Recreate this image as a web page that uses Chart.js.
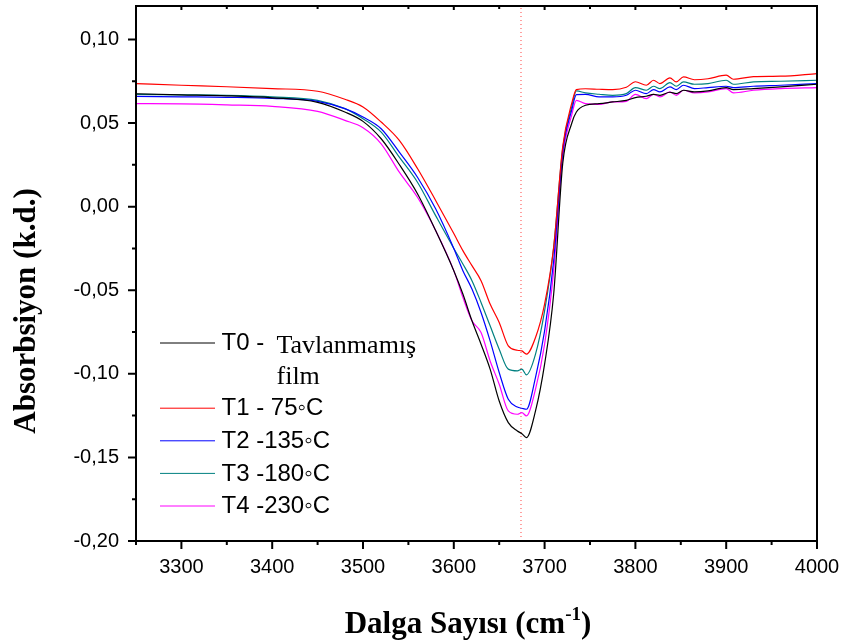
<!DOCTYPE html>
<html>
<head>
<meta charset="utf-8">
<script src="https://cdn.jsdelivr.net/npm/chart.js@4"></script>
<style>
  body { margin: 0; background: #fff; }
</style>
</head>
<body>
<canvas id="absChart" width="843" height="642"></canvas>
<script>
// wavenumber (cm-1) and absorbance
var wavenumbers = [3250, 3300, 3350, 3400, 3450, 3480, 3500, 3520, 3540, 3560, 3580,
    3600, 3610, 3620, 3630, 3640, 3650, 3660, 3670, 3675, 3680,
    3690, 3700, 3710, 3720, 3730, 3735, 3745,
    3760, 3775, 3790, 3800, 3812, 3820, 3827, 3838, 3845, 3853,
    3865, 3880, 3900, 3908, 3930, 3960, 4000];

var absT0 = [0.0675, 0.0669, 0.0663, 0.0651, 0.0624, 0.0566, 0.0510, 0.0406, 0.0252, 0.0077, -0.0143,
    -0.0383, -0.0523, -0.0683, -0.0823, -0.0972, -0.1163, -0.1292, -0.1342, -0.1358, -0.1382,
    -0.1222, -0.0942, -0.0523, 0.0260, 0.0500, 0.0566, 0.0606,
    0.0616, 0.0626, 0.0636, 0.0652, 0.0660, 0.0672, 0.0666, 0.0684, 0.0676, 0.0696,
    0.0686, 0.0692, 0.0712, 0.0700, 0.0706, 0.0716, 0.0732];

var absT1 = [0.0736, 0.0726, 0.0717, 0.0706, 0.0690, 0.0642, 0.0596, 0.0506, 0.0396, 0.0228, 0.0037,
    -0.0161, -0.0263, -0.0353, -0.0443, -0.0583, -0.0693, -0.0833, -0.0859, -0.0863, -0.0882,
    -0.0783, -0.0583, -0.0243, 0.0360, 0.0620, 0.0700, 0.0705,
    0.0702, 0.0700, 0.0714, 0.0747, 0.0726, 0.0756, 0.0736, 0.0770, 0.0746, 0.0776,
    0.0759, 0.0765, 0.0786, 0.0762, 0.0777, 0.0780, 0.0796];

var absT2 = [0.0660, 0.0657, 0.0654, 0.0648, 0.0630, 0.0586, 0.0536, 0.0466, 0.0326, 0.0176, -0.0013,
    -0.0250, -0.0383, -0.0493, -0.0633, -0.0803, -0.0992, -0.1152, -0.1199, -0.1206, -0.1212,
    -0.1021, -0.0743, -0.0323, 0.0330, 0.0580, 0.0670, 0.0672,
    0.0656, 0.0656, 0.0666, 0.0696, 0.0676, 0.0700, 0.0686, 0.0716, 0.0700, 0.0726,
    0.0706, 0.0712, 0.0720, 0.0712, 0.0720, 0.0726, 0.0736];

var absT3 = [0.0672, 0.0669, 0.0666, 0.0657, 0.0636, 0.0586, 0.0526, 0.0446, 0.0296, 0.0146, -0.0054,
    -0.0250, -0.0343, -0.0443, -0.0573, -0.0713, -0.0853, -0.0972, -0.0982, -0.0972, -0.1006,
    -0.0882, -0.0623, -0.0243, 0.0350, 0.0600, 0.0692, 0.0680,
    0.0672, 0.0666, 0.0676, 0.0712, 0.0696, 0.0720, 0.0706, 0.0742, 0.0720, 0.0746,
    0.0732, 0.0736, 0.0756, 0.0732, 0.0746, 0.0750, 0.0756];

var absT4 = [0.0616, 0.0615, 0.0609, 0.0600, 0.0570, 0.0516, 0.0472, 0.0376, 0.0206, 0.0056, -0.0143,
    -0.0383, -0.0543, -0.0683, -0.0753, -0.0923, -0.1062, -0.1222, -0.1242, -0.1232, -0.1252,
    -0.1092, -0.0823, -0.0383, 0.0300, 0.0550, 0.0636, 0.0616,
    0.0612, 0.0626, 0.0630, 0.0672, 0.0646, 0.0672, 0.0656, 0.0686, 0.0666, 0.0696,
    0.0680, 0.0686, 0.0706, 0.0680, 0.0696, 0.0706, 0.0712];

var seriesLabels = ['T0 - ', 'T1 - 75\u25E6C', 'T2 -135\u25E6C', 'T3 -180\u25E6C', 'T4 -230\u25E6C'];
var t0Note = ['Tavlanmamış', 'film'];
var markerWavenumber = 3674;
var xRange = [3250, 4000];
var yRange = [-0.20, 0.12];

function toPoints(ys) {
    return wavenumbers.map(function (x, i) { return { x: x, y: ys[i] }; });
}

// no extra room for half tick labels at the ends, the frame is placed by hand
function noEdgePadding(scale) {
    scale.paddingTop = 0;
    scale.paddingBottom = 0;
    scale.paddingLeft = 0;
    scale.paddingRight = 0;
}

// frame, tick marks, axis titles and the legend box
var frameAndLegend = {
    id: 'frameAndLegend',
    afterDraw: function (chart) {
        var ctx = chart.ctx, a = chart.chartArea;
        var xs = chart.scales.x, ys = chart.scales.y;
        ctx.save();
        ctx.strokeStyle = '#000';
        ctx.fillStyle = '#000';

        ctx.lineWidth = 2;
        ctx.beginPath();
        for (var v = xRange[0]; v <= xRange[1]; v += 50) {
            var px = xs.getPixelForValue(v);
            var major = v % 100 === 0;
            ctx.moveTo(px, a.bottom);
            ctx.lineTo(px, a.bottom + (major ? 8 : 4));
            ctx.moveTo(px, a.top);
            ctx.lineTo(px, a.top + (major ? 4 : 3));
        }
        for (var k = 0; k <= 12; k++) {
            var val = yRange[0] + k * 0.025;
            var py = ys.getPixelForValue(val);
            ctx.moveTo(a.left, py);
            ctx.lineTo(a.left - (k % 2 === 0 ? 8 : 4), py);
        }
        ctx.stroke();
        ctx.strokeRect(a.left, a.top, a.right - a.left, a.bottom - a.top);

        // y title
        ctx.save();
        ctx.translate(27, 311);
        ctx.rotate(-Math.PI / 2);
        ctx.font = 'bold 31px "Liberation Serif"';
        ctx.textAlign = 'center';
        ctx.textBaseline = 'middle';
        ctx.fillText('Absorbsiyon (k.d.)', 0, 0);
        ctx.restore();

        // x title with superscript
        var main = 'Dalga Sayısı (cm', sup = '-1', tail = ')';
        ctx.textBaseline = 'alphabetic';
        ctx.textAlign = 'left';
        ctx.font = 'bold 31px "Liberation Serif"';
        var wMain = ctx.measureText(main).width, wTail = ctx.measureText(tail).width;
        ctx.font = 'bold 19px "Liberation Serif"';
        var wSup = ctx.measureText(sup).width;
        var x0 = 468 - (wMain + wSup + wTail) / 2;
        ctx.font = 'bold 31px "Liberation Serif"';
        ctx.fillText(main, x0, 633);
        ctx.fillText(tail, x0 + wMain + wSup, 633);
        ctx.font = 'bold 19px "Liberation Serif"';
        ctx.fillText(sup, x0 + wMain, 620);

        // legend
        var rowY = [342.5, 407.7, 440.3, 472.9, 505.5];
        chart.data.datasets.forEach(function (ds, i) {
            if (i >= seriesLabels.length) return;
            var y = rowY[i];
            ctx.strokeStyle = ds.borderColor;
            ctx.lineWidth = 1;
            ctx.beginPath();
            ctx.moveTo(160, y + 0.5);
            ctx.lineTo(215, y + 0.5);
            ctx.stroke();
            ctx.font = '24px "Liberation Sans"';
            ctx.textBaseline = 'middle';
            ctx.fillText(seriesLabels[i], 221.5, y + 1);
        });
        ctx.font = '26px "Liberation Serif"';
        ctx.textBaseline = 'alphabetic';
        ctx.fillText(t0Note[0], 276.5, 353);
        ctx.fillText(t0Note[1], 276.5, 383.5);
        ctx.restore();
    }
};

var ctx = document.getElementById('absChart').getContext('2d');
var chart = new Chart(ctx, {
    type: 'line',
    data: {
        datasets: [
            { label: 'T0', data: toPoints(absT0), borderColor: '#000000' },
            { label: 'T1', data: toPoints(absT1), borderColor: '#ff0000' },
            { label: 'T2', data: toPoints(absT2), borderColor: '#0000ff' },
            { label: 'T3', data: toPoints(absT3), borderColor: '#008080' },
            { label: 'T4', data: toPoints(absT4), borderColor: '#ff00ff' },
            {
                label: 'marker',
                data: [{ x: markerWavenumber, y: yRange[0] }, { x: markerWavenumber, y: yRange[1] }],
                borderColor: 'rgba(255, 60, 60, 0.8)',
                borderDash: [1, 3],
                cubicInterpolationMode: 'default'
            }
        ]
    },
    options: {
        responsive: false,
        animation: false,
        layout: { padding: { left: 0, top: 6, right: 26, bottom: 0 } },
        elements: {
            point: { radius: 0 },
            line: { borderWidth: 1.2, cubicInterpolationMode: 'monotone', fill: false }
        },
        plugins: {
            legend: { display: false },
            tooltip: { enabled: false }
        },
        scales: {
            x: {
                type: 'linear',
                min: xRange[0],
                max: xRange[1],
                grid: { display: false, drawTicks: false },
                border: { display: false },
                ticks: {
                    stepSize: 100,
                    includeBounds: false,
                    padding: 14,
                    maxRotation: 0,
                    autoSkip: false,
                    color: '#000',
                    font: { family: 'Liberation Sans', size: 20 },
                    callback: function (value) { return String(value); }
                },
                afterFit: function (scale) { noEdgePadding(scale); scale.height = 101; }
            },
            y: {
                type: 'linear',
                min: yRange[0],
                max: yRange[1],
                grid: { display: false, drawTicks: false },
                border: { display: false },
                ticks: {
                    stepSize: 0.05,
                    includeBounds: false,
                    padding: 17,
                    color: '#000',
                    font: { family: 'Liberation Sans', size: 20 },
                    callback: function (value) { return value.toFixed(2).replace('.', ','); }
                },
                afterFit: function (scale) { noEdgePadding(scale); scale.width = 136; }
            }
        }
    },
    plugins: [frameAndLegend]
});
</script>
</body>
</html>
